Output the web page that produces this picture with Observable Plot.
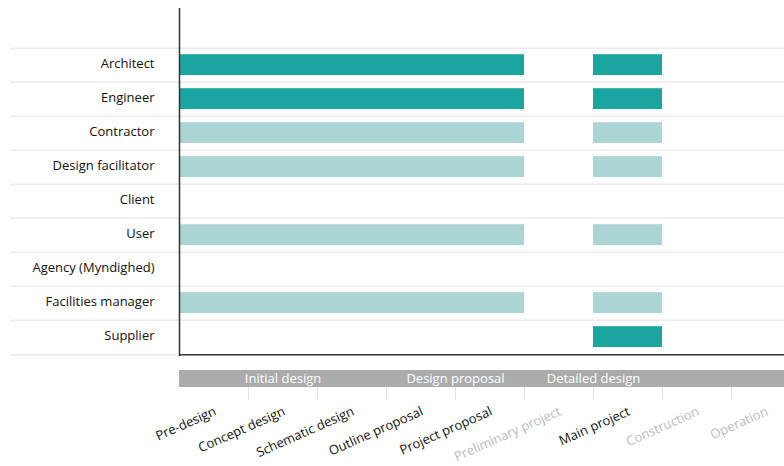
<!DOCTYPE html>
<html>
<head>
<meta charset="utf-8">
<script src="https://cdn.jsdelivr.net/npm/d3@7"></script>
<script src="https://cdn.jsdelivr.net/npm/@observablehq/plot@0.6"></script>
<style>
  html, body { margin: 0; padding: 0; background: #fff; }
  #chart svg { display: block; }
</style>
</head>
<body>
<div id="chart"></div>
<script>
// ---- data ----
const roles = ["Architect", "Engineer", "Contractor", "Design facilitator", "Client", "User", "Agency (Myndighed)", "Facilities manager", "Supplier"];
const roleLevel = ["strong", "strong", "light", "light", null, "light", null, "light", "strong"];
// spans of stage indexes [from, to) each role takes part in
const roleSpans = [
  [[0, 5], [6, 7]],
  [[0, 5], [6, 7]],
  [[0, 5], [6, 7]],
  [[0, 5], [6, 7]],
  [],
  [[0, 5], [6, 7]],
  [],
  [[0, 5], [6, 7]],
  [[6, 7]]
];
const stages = ["Pre-design", "Concept design", "Schematic design", "Outline proposal", "Project proposal", "Preliminary project", "Main project", "Construction", "Operation"];
const stageActive = [true, true, true, true, true, false, true, false, false];
const phases = ["Initial design", "Design proposal", "Detailed design", ""];
const phaseFrom = [0, 3, 5, 7];
const phaseTo = [3, 5, 7, 9];

// ---- derived tables ----
const bars = roles.flatMap((role, i) => roleSpans[i].map(([a, b]) => ({role, from: a, to: b, level: roleLevel[i]})));
const phaseRows = phases.map((name, i) => ({name, from: phaseFrom[i], to: phaseTo[i]}));
const stageRows = stages.map((name, i) => ({name, pos: i + 0.5, active: stageActive[i]}));
const boundaries = stages.slice(1).map((d, i) => i + 1);

const TEAL = "#1aa5a1";
const LIGHT = "#acd4d4";
const GRID = "#ebebeb";
const AXIS = "#333333";
const FONT = "'Open Sans', 'Noto Sans', sans-serif";

const xScale = {type: "linear", domain: [0, stages.length], range: [179, 800]};
const bw = 310 / roles.length;

const mainChart = Plot.plot({
  width: 784,
  height: 362,
  marginTop: 8,
  marginBottom: 6,
  marginLeft: 179,
  marginRight: 0,
  style: {fontFamily: FONT, fontSize: "13px", color: "#222", background: "#fff"},
  x: {...xScale, axis: null},
  y: {type: "band", domain: roles, range: [46, 356], padding: 0, label: null},
  marks: [
    Plot.ruleY(roles, {y: d => d, dy: -bw / 2, stroke: GRID, strokeWidth: 1.5, insetLeft: -169}),
    Plot.ruleY([roles[roles.length - 1]], {y: d => d, dy: bw / 2, stroke: GRID, strokeWidth: 1.5, insetLeft: -169}),
    Plot.barX(bars.filter(d => d.level === "light"), {x1: "from", x2: "to", y: "role", fill: LIGHT, insetTop: 6.2, insetBottom: 7}),
    Plot.barX(bars.filter(d => d.level === "strong"), {x1: "from", x2: "to", y: "role", fill: TEAL, insetTop: 6.2, insetBottom: 7}),
    Plot.axisY({tickSize: 0, tickPadding: 25, fontSize: 13, fill: "#111111", dy: -2, label: null}),
    Plot.ruleX([0], {stroke: AXIS, strokeWidth: 1.5}),
    Plot.ruleY([roles[roles.length - 1]], {y: d => d, dy: bw / 2, stroke: AXIS, strokeWidth: 1.5})
  ]
});

const phaseChart = Plot.plot({
  width: 784,
  height: 104,
  marginTop: 8,
  marginBottom: 79,
  marginLeft: 179,
  marginRight: 0,
  style: {fontFamily: FONT, fontSize: "13px", background: "#fff", overflow: "visible"},
  x: {...xScale, axis: null},
  marks: [
    Plot.rect(phaseRows, {x1: "from", x2: "to", fill: "#ababab"}),
    Plot.text(phaseRows, {x: d => (d.from + d.to) / 2, text: "name", fill: "#ffffff", fontSize: 13, frameAnchor: "middle"}),
    Plot.axisX({ticks: boundaries, tickSize: 13, tickFormat: () => "", stroke: "#e4e4e4", anchor: "bottom", label: null}),
    Plot.text(stageRows, {
      x: "pos", text: "name", frameAnchor: "bottom", dy: 27, dx: 3,
      rotate: -24, textAnchor: "end", fontSize: 13,
      fill: d => d.active ? "#111111" : "#bbbbbb"
    })
  ]
});

const el = document.getElementById("chart");
el.append(mainChart, phaseChart);
</script>
</body>
</html>
